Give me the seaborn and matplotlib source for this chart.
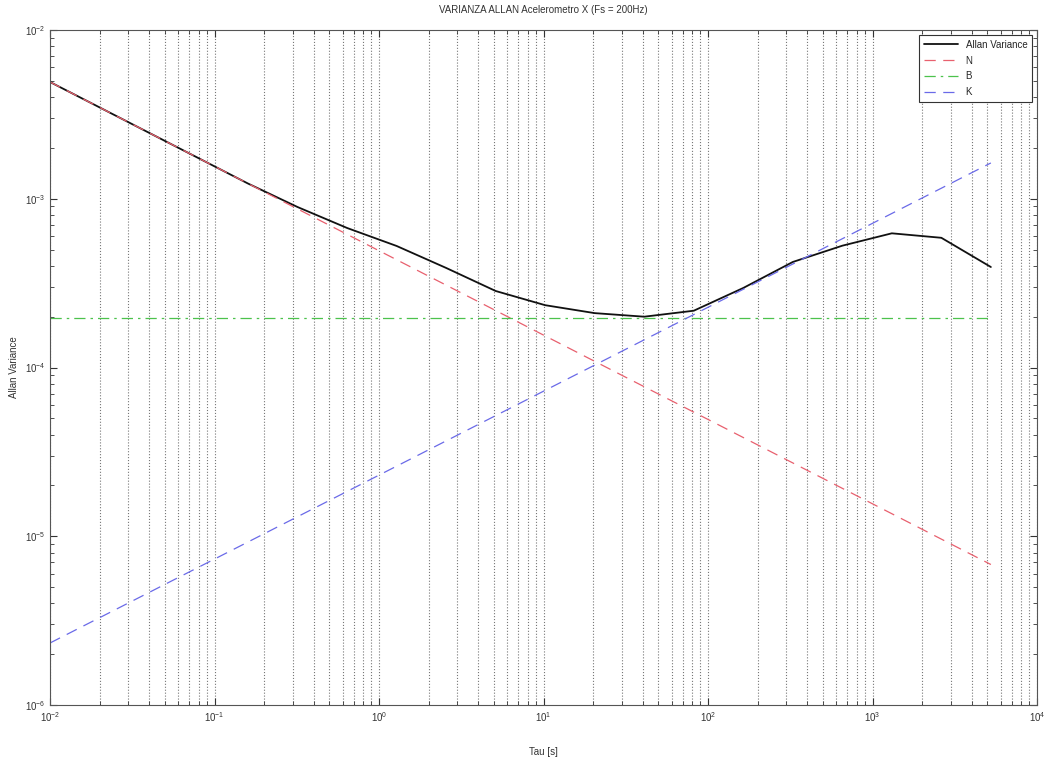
import matplotlib
matplotlib.use("Agg")
import matplotlib.pyplot as plt
import pandas as pd
import numpy as np
import seaborn as sns

# tau values (s) of the Allan curve, 0.01 * 2^k
tau = [0.01, 0.02, 0.04, 0.08, 0.16, 0.32, 0.64, 1.28, 2.56, 5.12, 10.24,
       20.48, 40.96, 81.92, 163.84, 327.68, 655.36, 1310.72, 2621.44, 5242.88]
allan = [4.92e-3, 3.48e-3, 2.46e-3, 1.74e-3, 1.23e-3, 8.93e-4, 6.71e-4, 5.25e-4,
         3.89e-4, 2.84e-4, 2.34e-4, 2.10e-4, 2.00e-4, 2.17e-4, 2.96e-4, 4.22e-4,
         5.27e-4, 6.24e-4, 5.87e-4, 3.94e-4]

# fitted noise lines (end points)
fit_tau = [0.01, 5242.88]
n_line = [4.92e-3, 6.8e-6]
b_line = [1.97e-4, 1.97e-4]
k_line = [2.33e-6, 1.63e-3]

title = "VARIANZA ALLAN Acelerometro X (Fs = 200Hz)"

sns.set_style("ticks")
plt.rcParams['font.family'] = ['Liberation Sans', 'DejaVu Sans']

fig = plt.figure(figsize=(10.49, 7.65), dpi=100)
ax = fig.add_axes([50 / 1049, 1 - 705 / 765, 987 / 1049, 675 / 765])

df = pd.DataFrame({"tau": tau, "allan": allan})
fits = pd.DataFrame({"tau": fit_tau, "N": n_line, "B": b_line, "K": k_line})

sns.lineplot(data=df, x="tau", y="allan", ax=ax, color="#111111", lw=1.3,
             label="Allan Variance")
sns.lineplot(data=fits, x="tau", y="N", ax=ax, color="#e8606e", lw=0.9,
             linestyle=(0, (9, 6)), label="N")
sns.lineplot(data=fits, x="tau", y="B", ax=ax, color="#4cc24c", lw=0.9,
             linestyle=(0, (9, 4, 2, 4)), label="B")
sns.lineplot(data=fits, x="tau", y="K", ax=ax, color="#6a6ae8", lw=0.9,
             linestyle=(0, (9, 6)), label="K")

ax.set_xscale("log")
ax.set_yscale("log")
ax.set_xlim(1e-2, 1e4)
ax.set_ylim(1e-6, 1e-2)

ax.grid(True, which="both", axis="x", linestyle=":", color="#777777", lw=0.8)
ax.grid(False, axis="y", which="both")
ax.tick_params(which="both", direction="in", top=True, right=True,
               labelsize=7, colors="#333333")
ax.tick_params(which="major", length=5)
ax.tick_params(which="minor", length=3)
for s in ax.spines.values():
    s.set_color("#555555")
    s.set_linewidth(0.8)

ax.set_title(title, fontsize=7, color="#333333", pad=12)
ax.set_xlabel("Tau [s]", fontsize=7, color="#333333", labelpad=17)
ax.set_ylabel("Allan Variance", fontsize=7, color="#333333", labelpad=4)

leg = ax.legend(loc="upper right", fontsize=7, handlelength=3.5,
                fancybox=False, framealpha=1, edgecolor="#333333",
                borderpad=0.5, labelspacing=0.6)
leg.get_frame().set_linewidth(0.8)

fig.savefig("out.png", dpi=100)
